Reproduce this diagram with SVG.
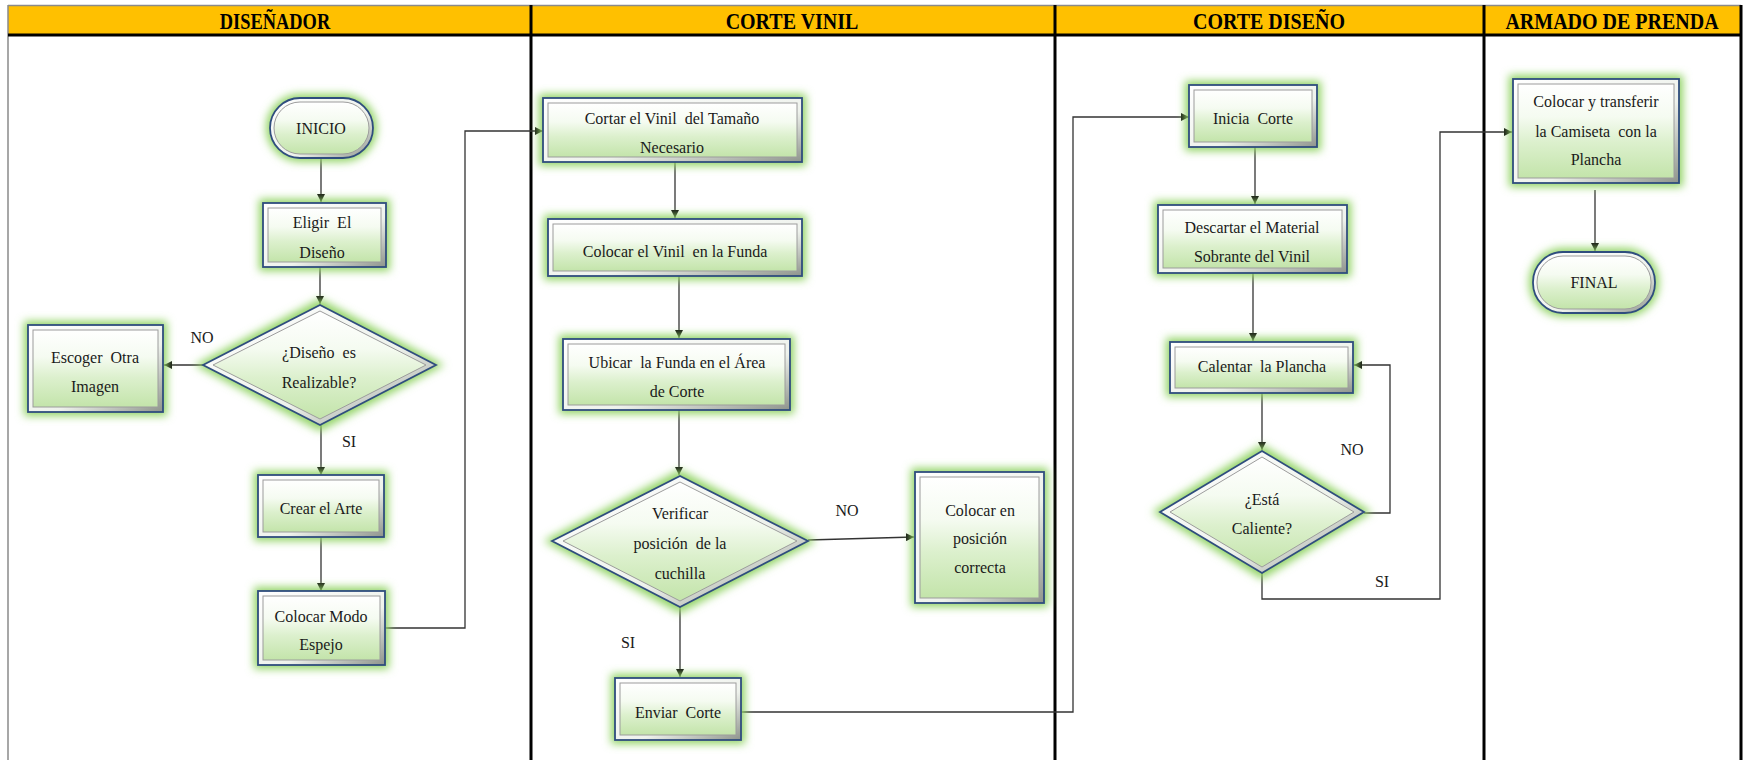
<svg xmlns="http://www.w3.org/2000/svg" width="1747" height="760" viewBox="0 0 1747 760">
  <defs>
    <style>
      .lane { stroke: #000; stroke-width: 3; }
      .edge { stroke: #8a8a8a; stroke-width: 1.5; }
      .hdr { font-family: "Liberation Serif", "Times New Roman", serif; font-weight: bold; font-size: 20px; text-anchor: middle; fill: #000; }
      .lbl { font-family: "Liberation Serif", "Times New Roman", serif; font-size: 16px; text-anchor: middle; fill: #1a1a1a; }
      .halo { fill: #93d466; stroke: #93d466; stroke-width: 4; filter: url(#glow); }
      .frame { fill: url(#rim); stroke: #2f4d7e; stroke-width: 1.8; }
      .face { fill: url(#face); stroke: #9c9c9c; stroke-width: 1; }
      .conn { fill: none; stroke: #333; stroke-width: 1.3; marker-end: url(#arrow); }
    </style>
    <filter id="glow" x="-30%" y="-30%" width="160%" height="160%">
      <feGaussianBlur stdDeviation="4"/>
    </filter>
    <linearGradient id="face" x1="0" y1="0" x2="0" y2="1">
      <stop offset="0" stop-color="#ffffff"/>
      <stop offset="0.35" stop-color="#f5fbf1"/>
      <stop offset="0.62" stop-color="#dcf0cd"/>
      <stop offset="1" stop-color="#c3e4aa"/>
    </linearGradient>
    <linearGradient id="rim" x1="0" y1="0" x2="1" y2="1">
      <stop offset="0" stop-color="#ffffff"/>
      <stop offset="0.6" stop-color="#eef2ec"/>
      <stop offset="1" stop-color="#8e948c"/>
    </linearGradient>
    <marker id="arrow" viewBox="0 0 10 10" refX="10" refY="5" markerWidth="8" markerHeight="8" markerUnits="userSpaceOnUse" orient="auto">
      <path d="M0,0 L10,5 L0,10 z" fill="#111"/>
    </marker>
  </defs>

  <rect x="0" y="0" width="1747" height="760" fill="#fff"/>

  <!-- swimlane frame and headers -->
  <g id="lanes">
    <rect x="8" y="6" width="1733" height="29" fill="#ffc000"/>
    <line class="edge" x1="8" y1="5.5" x2="1741" y2="5.5"/>
    <line class="edge" x1="8" y1="5" x2="8" y2="760"/>
    <line class="lane" x1="8" y1="35" x2="1741" y2="35"/>
    <line class="lane" x1="531" y1="5" x2="531" y2="760"/>
    <line class="lane" x1="1055" y1="5" x2="1055" y2="760"/>
    <line class="lane" x1="1484" y1="5" x2="1484" y2="760"/>
    <line class="lane" x1="1741" y1="5" x2="1741" y2="760"/>
    <text class="hdr" transform="translate(275,29) scale(0.92,1.12)">DISEÑADOR</text>
    <text class="hdr" transform="translate(792,29) scale(1,1.12)">CORTE VINIL</text>
    <text class="hdr" transform="translate(1269,29) scale(1,1.12)">CORTE DISEÑO</text>
    <text class="hdr" transform="translate(1612,29) scale(1,1.12)">ARMADO DE PRENDA</text>
  </g>

  <!-- connectors -->
  <g id="connectors">
    <line class="conn" x1="321" y1="158" x2="321" y2="202"/>
    <line class="conn" x1="320" y1="267" x2="320" y2="304"/>
    <line class="conn" x1="204" y1="365" x2="164" y2="365"/>
    <line class="conn" x1="321" y1="425" x2="321" y2="475"/>
    <line class="conn" x1="321" y1="537" x2="321" y2="591"/>
    <polyline class="conn" points="385,628 465,628 465,131 543,131"/>
    <line class="conn" x1="675" y1="162" x2="675" y2="218"/>
    <line class="conn" x1="679" y1="276" x2="679" y2="338"/>
    <line class="conn" x1="679" y1="410" x2="679" y2="475"/>
    <line class="conn" x1="808" y1="540" x2="914" y2="537"/>
    <line class="conn" x1="680" y1="607" x2="680" y2="677"/>
    <polyline class="conn" points="741,712 1073,712 1073,117 1189,117"/>
    <line class="conn" x1="1255" y1="147" x2="1255" y2="204"/>
    <line class="conn" x1="1253" y1="273" x2="1253" y2="341"/>
    <line class="conn" x1="1262" y1="393" x2="1262" y2="450"/>
    <polyline class="conn" points="1364,513 1390,513 1390,365 1354,365"/>
    <polyline class="conn" points="1262,573 1262,599 1440,599 1440,132 1512,132"/>
    <line class="conn" x1="1595" y1="190" x2="1595" y2="251"/>
    <text class="lbl" x="202" y="343">NO</text>
    <text class="lbl" x="349" y="447">SI</text>
    <text class="lbl" x="847" y="516">NO</text>
    <text class="lbl" x="628" y="648">SI</text>
    <text class="lbl" x="1352" y="455">NO</text>
    <text class="lbl" x="1382" y="587">SI</text>
  </g>

  <!-- DISEÑADOR -->
  <g id="n-inicio">
    <rect class="halo" x="268" y="96" width="107" height="64" rx="32"/>
    <rect class="frame" x="270" y="98" width="103" height="60" rx="30"/>
    <rect class="face" x="274" y="102" width="95" height="52" rx="26"/>
    <text class="lbl" x="321" y="134">INICIO</text>
  </g>
  <g id="n-eligir">
    <rect class="halo" x="261" y="201" width="127" height="68"/>
    <rect class="frame" x="263" y="203" width="123" height="64"/>
    <rect class="face" x="268" y="208" width="113" height="54"/>
    <text class="lbl" x="322" y="228" xml:space="preserve">Eligir  El</text>
    <text class="lbl" x="322" y="258">Diseño</text>
  </g>
  <g id="n-realizable">
    <polygon class="halo" points="199,365 320,301 440,365 320,429"/>
    <polygon class="frame" points="203,365 320,305 436,365 320,425"/>
    <polygon class="face" points="213,365 320,311 426,365 320,419"/>
    <text class="lbl" x="319" y="358" xml:space="preserve">¿Diseño  es</text>
    <text class="lbl" x="319" y="388">Realizable?</text>
  </g>
  <g id="n-escoger">
    <rect class="halo" x="26" y="323" width="139" height="91"/>
    <rect class="frame" x="28" y="325" width="135" height="87"/>
    <rect class="face" x="33" y="330" width="125" height="77"/>
    <text class="lbl" x="95" y="363" xml:space="preserve">Escoger  Otra</text>
    <text class="lbl" x="95" y="392">Imagen</text>
  </g>
  <g id="n-crear">
    <rect class="halo" x="256" y="473" width="130" height="66"/>
    <rect class="frame" x="258" y="475" width="126" height="62"/>
    <rect class="face" x="263" y="480" width="116" height="52"/>
    <text class="lbl" x="321" y="514">Crear el Arte</text>
  </g>
  <g id="n-espejo">
    <rect class="halo" x="256" y="589" width="131" height="78"/>
    <rect class="frame" x="258" y="591" width="127" height="74"/>
    <rect class="face" x="263" y="596" width="117" height="64"/>
    <text class="lbl" x="321" y="622">Colocar Modo</text>
    <text class="lbl" x="321" y="650">Espejo</text>
  </g>

  <!-- CORTE VINIL -->
  <g id="n-cortar">
    <rect class="halo" x="541" y="96" width="263" height="68"/>
    <rect class="frame" x="543" y="98" width="259" height="64"/>
    <rect class="face" x="548" y="103" width="249" height="54"/>
    <text class="lbl" x="672" y="124" xml:space="preserve">Cortar el Vinil  del Tamaño</text>
    <text class="lbl" x="672" y="153">Necesario</text>
  </g>
  <g id="n-funda">
    <rect class="halo" x="546" y="217" width="258" height="61"/>
    <rect class="frame" x="548" y="219" width="254" height="57"/>
    <rect class="face" x="553" y="224" width="244" height="47"/>
    <text class="lbl" x="675" y="257" xml:space="preserve">Colocar el Vinil  en la Funda</text>
  </g>
  <g id="n-ubicar">
    <rect class="halo" x="561" y="337" width="231" height="75"/>
    <rect class="frame" x="563" y="339" width="227" height="71"/>
    <rect class="face" x="568" y="344" width="217" height="61"/>
    <text class="lbl" x="677" y="368" xml:space="preserve">Ubicar  la Funda en el Área</text>
    <text class="lbl" x="677" y="397">de Corte</text>
  </g>
  <g id="n-verificar">
    <polygon class="halo" points="548,541 680,472 812,541 680,611"/>
    <polygon class="frame" points="552,541 680,476 808,541 680,607"/>
    <polygon class="face" points="563,541 680,482 797,541 680,601"/>
    <text class="lbl" x="680" y="519">Verificar</text>
    <text class="lbl" x="680" y="549" xml:space="preserve">posición  de la</text>
    <text class="lbl" x="680" y="579">cuchilla</text>
  </g>
  <g id="n-posicion">
    <rect class="halo" x="913" y="470" width="133" height="135"/>
    <rect class="frame" x="915" y="472" width="129" height="131"/>
    <rect class="face" x="920" y="477" width="119" height="121"/>
    <text class="lbl" x="980" y="516">Colocar en</text>
    <text class="lbl" x="980" y="544">posición</text>
    <text class="lbl" x="980" y="573">correcta</text>
  </g>
  <g id="n-enviar">
    <rect class="halo" x="613" y="676" width="130" height="66"/>
    <rect class="frame" x="615" y="678" width="126" height="62"/>
    <rect class="face" x="620" y="683" width="116" height="52"/>
    <text class="lbl" x="678" y="718" xml:space="preserve">Enviar  Corte</text>
  </g>

  <!-- CORTE DISEÑO -->
  <g id="n-inicia">
    <rect class="halo" x="1187" y="83" width="132" height="66"/>
    <rect class="frame" x="1189" y="85" width="128" height="62"/>
    <rect class="face" x="1194" y="90" width="118" height="52"/>
    <text class="lbl" x="1253" y="124" xml:space="preserve">Inicia  Corte</text>
  </g>
  <g id="n-descartar">
    <rect class="halo" x="1156" y="203" width="193" height="72"/>
    <rect class="frame" x="1158" y="205" width="189" height="68"/>
    <rect class="face" x="1163" y="210" width="179" height="58"/>
    <text class="lbl" x="1252" y="233">Descartar el Material</text>
    <text class="lbl" x="1252" y="262">Sobrante del Vinil</text>
  </g>
  <g id="n-calentar">
    <rect class="halo" x="1168" y="340" width="187" height="55"/>
    <rect class="frame" x="1170" y="342" width="183" height="51"/>
    <rect class="face" x="1175" y="347" width="173" height="41"/>
    <text class="lbl" x="1262" y="372" xml:space="preserve">Calentar  la Plancha</text>
  </g>
  <g id="n-caliente">
    <polygon class="halo" points="1156,512 1262,447 1368,512 1262,577"/>
    <polygon class="frame" points="1160,512 1262,451 1364,512 1262,573"/>
    <polygon class="face" points="1170,512 1262,457 1354,512 1262,567"/>
    <text class="lbl" x="1262" y="505">¿Está</text>
    <text class="lbl" x="1262" y="534">Caliente?</text>
  </g>

  <!-- ARMADO DE PRENDA -->
  <g id="n-transferir">
    <rect class="halo" x="1511" y="77" width="170" height="108"/>
    <rect class="frame" x="1513" y="79" width="166" height="104"/>
    <rect class="face" x="1518" y="84" width="156" height="94"/>
    <text class="lbl" x="1596" y="107">Colocar  y transferir</text>
    <text class="lbl" x="1596" y="137" xml:space="preserve">la Camiseta  con la</text>
    <text class="lbl" x="1596" y="165">Plancha</text>
  </g>
  <g id="n-final">
    <rect class="halo" x="1531" y="250" width="126" height="65" rx="32"/>
    <rect class="frame" x="1533" y="252" width="122" height="61" rx="30"/>
    <rect class="face" x="1537" y="256" width="114" height="53" rx="26"/>
    <text class="lbl" x="1594" y="288">FINAL</text>
  </g>
</svg>
